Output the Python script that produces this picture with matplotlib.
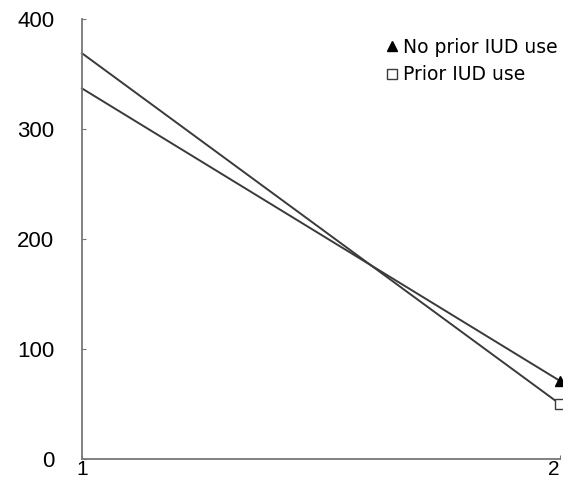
import matplotlib
matplotlib.use("Agg")
import matplotlib.pyplot as plt
from matplotlib.lines import Line2D

plt.rcParams['font.family'] = ['Liberation Sans', 'DejaVu Sans']

x_vals = [1, 2]
no_prior = [337, 71]
prior = [369, 50]
series_labels = ["No prior IUD use", "Prior IUD use"]
y_ticks = [0, 100, 200, 300, 400]
x_ticks = [1, 2]

fig = plt.figure(figsize=(5.63, 4.86), dpi=100)
ax = fig.add_axes([0.1456, 0.0556, 0.849, 0.905])

line_col = '#3a3a3a'
ax.plot(x_vals, no_prior, color=line_col, lw=1.4, marker='^', markersize=7,
        markevery=[1], markerfacecolor='black', markeredgecolor='black', clip_on=False)
ax.plot(x_vals, prior, color=line_col, lw=1.4, marker='s', markersize=6.5,
        markevery=[1], markerfacecolor='white', markeredgecolor=line_col, clip_on=False)

ax.set_xlim(1, 2)
ax.set_ylim(0, 400)
ax.set_xticks(x_ticks)
ax.set_xticklabels([str(v) for v in x_ticks])
ax.set_yticks(y_ticks)
ax.set_yticklabels([str(v) for v in y_ticks])

for s in ['top', 'right']:
    ax.spines[s].set_visible(False)
for s in ['left', 'bottom']:
    ax.spines[s].set_color('#777777')
    ax.spines[s].set_linewidth(1.3)

ax.tick_params(axis='y', length=3, direction='in', color='#777777', pad=20, labelsize=16)
ax.tick_params(axis='x', length=3, direction='in', color='#777777', pad=1, labelsize=15)
for lbl in ax.get_xticklabels():
    if lbl.get_text() == '2':
        lbl.set_horizontalalignment('right')

handles = [
    Line2D([], [], linestyle='none', marker='^', markersize=7, markerfacecolor='black', markeredgecolor='black'),
    Line2D([], [], linestyle='none', marker='s', markersize=6.5, markerfacecolor='white', markeredgecolor=line_col),
]
leg = ax.legend(handles, series_labels, loc='upper right', bbox_to_anchor=(1.01, 0.975),
                frameon=False, prop={'family': 'DejaVu Sans', 'size': 13.5},
                handlelength=0.6, handletextpad=0.25,
                labelspacing=0.45, borderaxespad=0)

fig.savefig('out.png', dpi=100)
